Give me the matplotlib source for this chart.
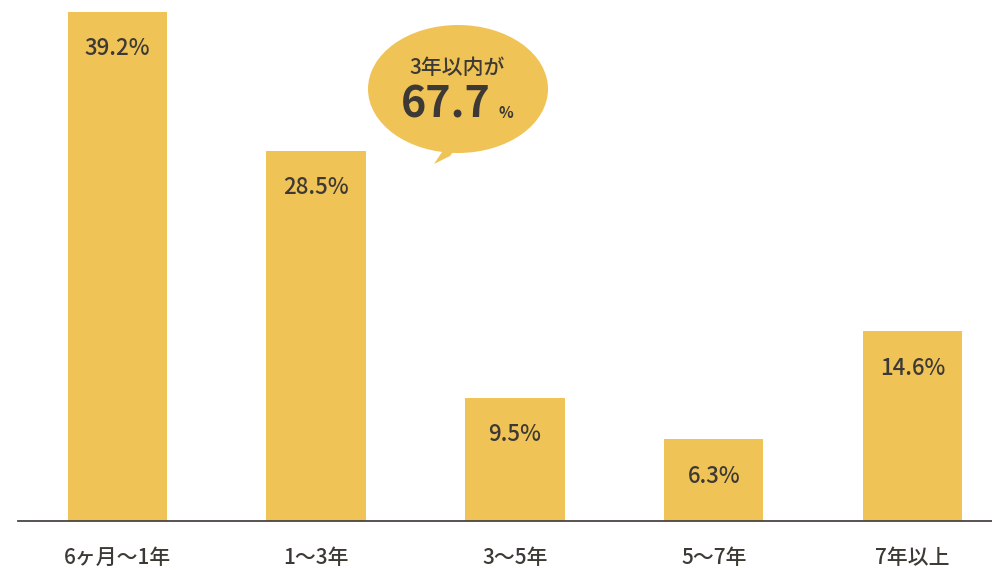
import matplotlib.pyplot as plt
from matplotlib.patches import Ellipse, Polygon

plt.rcParams['font.family'] = ['Noto Sans CJK JP', 'DejaVu Sans']

categories = ['6ヶ月～1年', '1～3年', '3～5年', '5～7年', '7年以上']
values = [39.2, 28.5, 9.5, 6.3, 14.6]
bubble_head = '3年以内が'
bubble_value = '67.7'

BAR = '#f0c356'
TEXT = '#3d3935'


def main():
    fig = plt.figure(figsize=(9.92, 5.70), dpi=100)
    ax = fig.add_axes([18 / 992, 49 / 570, 1 - 18 / 992, 519.4 / 570])
    x = range(len(values))
    ax.bar(x, values, width=0.5, color=BAR, zorder=2)
    ax.set_xlim(-0.5, 4.4)
    ax.set_ylim(0, 40)
    for s in ['top', 'right', 'left']:
        ax.spines[s].set_visible(False)
    ax.spines['bottom'].set_color('#4a4542')
    ax.spines['bottom'].set_linewidth(1.3)
    ax.set_yticks([])
    ax.set_xticks(list(x))
    ax.set_xticklabels(categories, fontsize=15, color=TEXT, fontweight='medium')
    ax.tick_params(axis='x', length=0, pad=19)
    for i, v in enumerate(values):
        ax.annotate(f'{v:.1f}%', (i, v), xytext=(0, -37), textcoords='offset pixels',
                    ha='center', va='center', fontsize=16, color=TEXT, fontweight='medium')

    # speech bubble, drawn in pixel space
    ov = fig.add_axes([0, 0, 1, 1], facecolor='none')
    ov.set_xlim(0, 992)
    ov.set_ylim(570, 0)
    ov.axis('off')
    ov.add_patch(Ellipse((458, 89), 180, 128, color=BAR, lw=0))
    ov.add_patch(Polygon([(436, 140), (462, 140), (450, 156), (434, 164), (442, 152)],
                         color=BAR, lw=0))
    ov.text(457, 68, bubble_head, ha='center', va='center', fontsize=15,
            color=TEXT, fontweight='medium')
    ov.text(446, 104, bubble_value, ha='center', va='center', fontsize=31,
            color=TEXT, fontweight='bold')
    ov.text(506, 113, '%', ha='center', va='center', fontsize=11,
            color=TEXT, fontweight='bold')

    fig.savefig('out.png', dpi=100)


if __name__ == "__main__":
    main()
